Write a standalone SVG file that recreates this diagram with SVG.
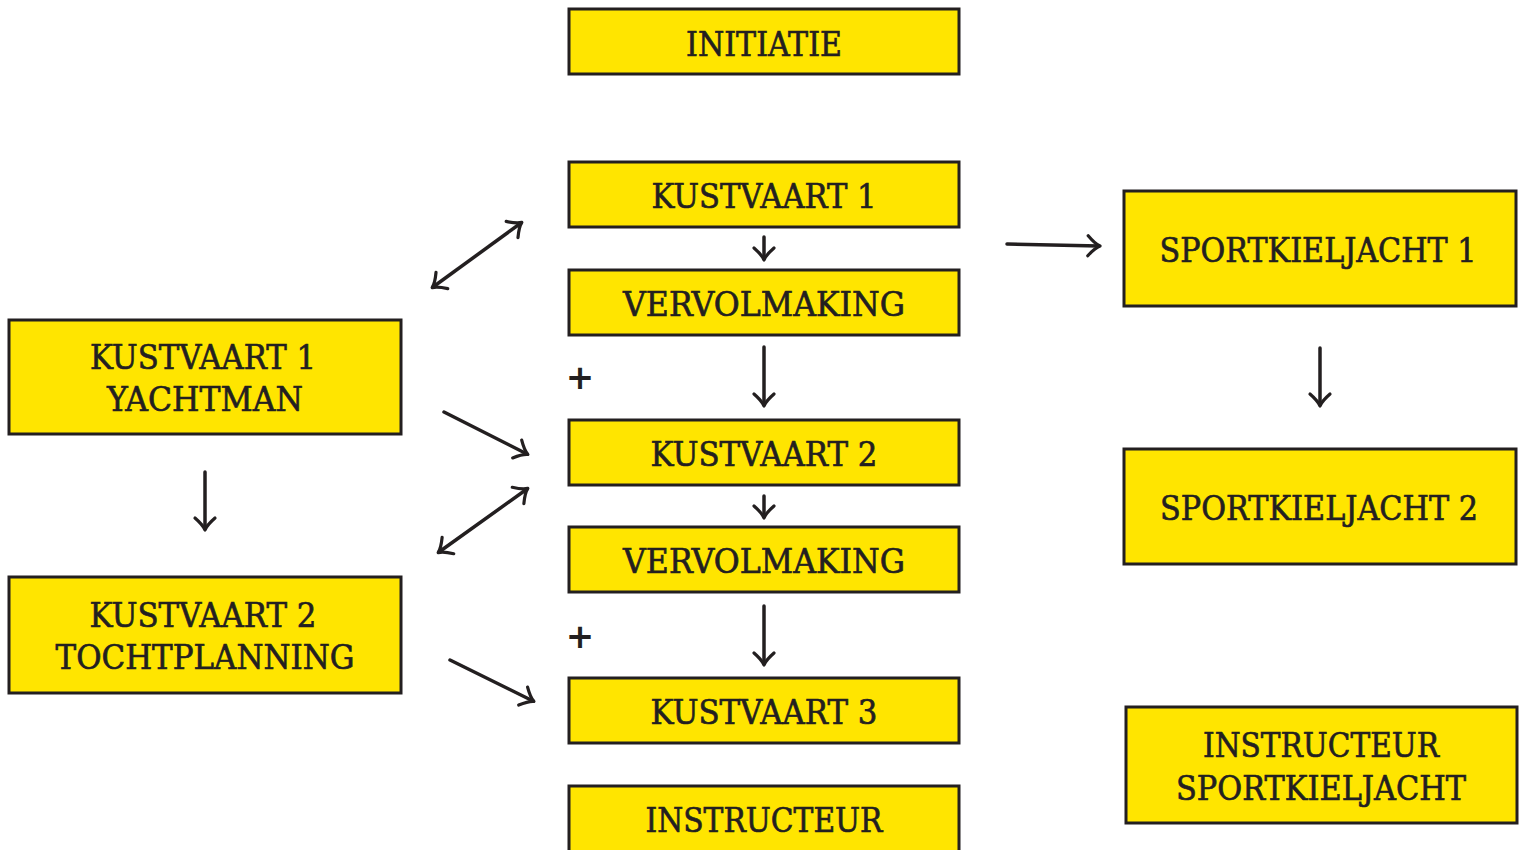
<svg xmlns="http://www.w3.org/2000/svg" width="1523" height="850" viewBox="0 0 1523 850">
<style>
.box{fill:#FFE500;stroke:#231F20;stroke-width:3}
.t{font-family:"DejaVu Serif","Liberation Serif",serif;font-size:34px;fill:#231F20;stroke:#231F20;stroke-width:0.7;text-anchor:middle}
.plus{font-family:"DejaVu Sans","Liberation Sans",sans-serif;font-weight:bold;font-size:34px;fill:#231F20;text-anchor:middle}
.c{stroke:#231F20;stroke-width:3.5;fill:none;stroke-linecap:round}
</style>
<defs>
<marker id="ah" viewBox="-16 -14 20 28" refX="0" refY="0" markerWidth="20" markerHeight="28" markerUnits="userSpaceOnUse" orient="auto-start-reverse">
<path d="M-11,-10 Q-4,-2 1,0 Q-4,2 -11,10" fill="none" stroke="#231F20" stroke-width="3.2" stroke-linecap="round" stroke-linejoin="round"/>
</marker>
</defs>
<g id="initiatie"><rect class="box" x="569" y="9" width="390" height="65"/><text class="t" x="764" y="56" textLength="156" lengthAdjust="spacingAndGlyphs">INITIATIE</text></g>
<g id="kustvaart1"><rect class="box" x="569" y="162" width="390" height="65"/><text class="t" x="764" y="208" textLength="225" lengthAdjust="spacingAndGlyphs">KUSTVAART 1</text></g>
<g id="vervolmaking1"><rect class="box" x="569" y="270" width="390" height="65"/><text class="t" x="764" y="316" textLength="282" lengthAdjust="spacingAndGlyphs">VERVOLMAKING</text></g>
<g id="kustvaart2"><rect class="box" x="569" y="420" width="390" height="65"/><text class="t" x="764" y="466" textLength="227" lengthAdjust="spacingAndGlyphs">KUSTVAART 2</text></g>
<g id="vervolmaking2"><rect class="box" x="569" y="527" width="390" height="65"/><text class="t" x="764" y="573" textLength="282" lengthAdjust="spacingAndGlyphs">VERVOLMAKING</text></g>
<g id="kustvaart3"><rect class="box" x="569" y="678" width="390" height="65"/><text class="t" x="764" y="724" textLength="227" lengthAdjust="spacingAndGlyphs">KUSTVAART 3</text></g>
<g id="instructeur"><rect class="box" x="569" y="786" width="390" height="70"/><text class="t" x="764" y="832" textLength="237" lengthAdjust="spacingAndGlyphs">INSTRUCTEUR</text></g>
<g id="yachtman"><rect class="box" x="9" y="320" width="392" height="114"/><text class="t" x="203" y="369" textLength="226" lengthAdjust="spacingAndGlyphs">KUSTVAART 1</text><text class="t" x="205" y="411" textLength="196" lengthAdjust="spacingAndGlyphs">YACHTMAN</text></g>
<g id="tochtplanning"><rect class="box" x="9" y="577" width="392" height="116"/><text class="t" x="203" y="627" textLength="227" lengthAdjust="spacingAndGlyphs">KUSTVAART 2</text><text class="t" x="205" y="669" textLength="299" lengthAdjust="spacingAndGlyphs">TOCHTPLANNING</text></g>
<g id="sportkieljacht1"><rect class="box" x="1124" y="191" width="392" height="115"/><text class="t" x="1318" y="262" textLength="317" lengthAdjust="spacingAndGlyphs">SPORTKIELJACHT 1</text></g>
<g id="sportkieljacht2"><rect class="box" x="1124" y="449" width="392" height="115"/><text class="t" x="1319" y="520" textLength="318" lengthAdjust="spacingAndGlyphs">SPORTKIELJACHT 2</text></g>
<g id="instructeur-sportkieljacht"><rect class="box" x="1126" y="707" width="391" height="116"/><text class="t" x="1321" y="757" textLength="236" lengthAdjust="spacingAndGlyphs">INSTRUCTEUR</text><text class="t" x="1321" y="800" textLength="290" lengthAdjust="spacingAndGlyphs">SPORTKIELJACHT</text></g>
<g id="plus-signs"><text class="plus" x="580" y="389">+</text><text class="plus" x="580" y="648">+</text></g>
<g id="connectors">
<line class="c" x1="433" y1="287" x2="521" y2="223" marker-start="url(#ah)" marker-end="url(#ah)"/>
<line class="c" x1="764" y1="237" x2="764" y2="259" marker-end="url(#ah)"/>
<line class="c" x1="764" y1="347" x2="764" y2="405" marker-end="url(#ah)"/>
<line class="c" x1="444" y1="412" x2="527" y2="454" marker-end="url(#ah)"/>
<line class="c" x1="439" y1="552" x2="527" y2="489" marker-start="url(#ah)" marker-end="url(#ah)"/>
<line class="c" x1="764" y1="496" x2="764" y2="517" marker-end="url(#ah)"/>
<line class="c" x1="764" y1="606" x2="764" y2="664" marker-end="url(#ah)"/>
<line class="c" x1="450" y1="660" x2="533" y2="701" marker-end="url(#ah)"/>
<line class="c" x1="205" y1="472" x2="205" y2="529" marker-end="url(#ah)"/>
<line class="c" x1="1007" y1="244" x2="1099" y2="246" marker-end="url(#ah)"/>
<line class="c" x1="1320" y1="348" x2="1320" y2="405" marker-end="url(#ah)"/>
</g>
</svg>
